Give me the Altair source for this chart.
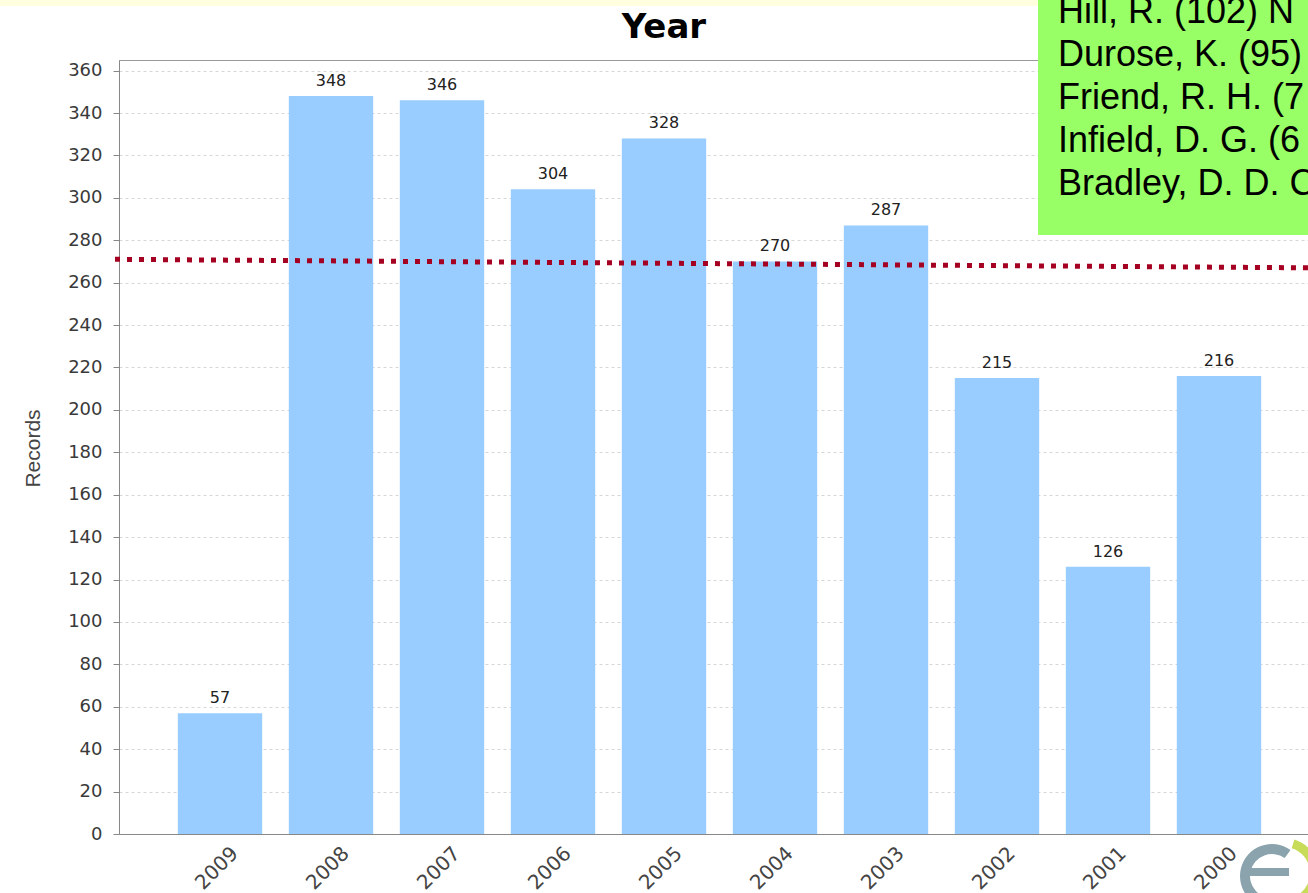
import altair as alt
import pandas as pd

# ---- data ----
years = ["2009", "2008", "2007", "2006", "2005", "2004", "2003", "2002", "2001", "2000"]
records = [57, 348, 346, 304, 328, 270, 287, 215, 126, 216]
avg_start, avg_end = 271, 267
authors = ["Hill, R. (102)  N", "Durose, K. (95)", "Friend, R. H. (7", "Infield, D. G. (6", "Bradley, D. D. C"]
y_ticks = list(range(0, 361, 20))

df = pd.DataFrame({"Year": years, "Records": records})

W, H = 1189, 774

x_enc = alt.X("Year:N", sort=years, title=None,
              scale=alt.Scale(range=[0, 1201], paddingInner=0.24, paddingOuter=0.53),
              axis=alt.Axis(labelAngle=-45, labelAlign="right", labelBaseline="top",
                            labelOffset=8, labelPadding=9, ticks=False,
                            labelFont="DejaVu Sans", labelFontSize=20, labelColor="#444",
                            domainColor="#888", grid=False))
y_enc = alt.Y("Records:Q", title="Records",
              scale=alt.Scale(domain=[0, 365], nice=False),
              axis=alt.Axis(values=y_ticks, tickSize=6, tickColor="#888", labelPadding=11,
                            labelFont="DejaVu Sans", labelFontSize=18, labelColor="#3a3a3a",
                            domainColor="#888", gridColor="#d6d6d6", gridDash=[3, 3],
                            titleFont="Liberation Sans", titleFontSize=21, titleFontWeight="normal",
                            titleColor="#444", titleX=-86, titleY=388, titleAngle=-90,
                            titleAlign="center", titleBaseline="middle"))

bars = alt.Chart(df).mark_bar(color="#99CCFF").encode(x=x_enc, y=y_enc)
labels = alt.Chart(df).mark_text(baseline="bottom", dy=-7, font="DejaVu Sans",
                                 fontSize=16, color="#222").encode(
    x=alt.X("Year:N", sort=years), y="Records:Q", text="Records:Q")

one = alt.Data(values=[{"a": 1}])
avg = alt.Chart(alt.Data(values=[{"s": avg_start, "e": avg_end}])).mark_rule(
    color="#A50021", strokeWidth=5, strokeDash=[5, 7], strokeCap="butt").encode(
    x=alt.value(-4), x2=alt.value(W), y="s:Q", y2="e:Q")

yellow = alt.Chart(one).mark_rect(color="#FFFFE0").encode(
    x=alt.value(-119), x2=alt.value(919), y=alt.value(-60), y2=alt.value(-54))
green = alt.Chart(one).mark_rect(color="#99FF66").encode(
    x=alt.value(919), x2=alt.value(1300), y=alt.value(-62), y2=alt.value(175))
green_text = alt.Chart(alt.Data(values=[{"t": authors}])).mark_text(
    align="left", baseline="alphabetic", font="Liberation Sans", fontSize=36,
    lineHeight=43, color="#000").encode(
    x=alt.value(939), y=alt.value(-37), text="t:N")
title = alt.Chart(one).mark_text(text="Year", font="DejaVu Sans", fontSize=34,
                                 fontWeight="bold", color="#000", align="center",
                                 baseline="middle").encode(
    x=alt.value(545), y=alt.value(-32))

logo_gray = alt.Chart(one).mark_arc(color="#8AA3AD", theta=3.0, theta2=6.9,
                                    outerRadius=32, innerRadius=22).encode(
    x=alt.value(1153), y=alt.value(816))
logo_bar = alt.Chart(one).mark_rect(color="#8AA3AD").encode(
    x=alt.value(1128), x2=alt.value(1170), y=alt.value(808), y2=alt.value(816))
logo_green = alt.Chart(one).mark_arc(color="#C8DC5A", theta=0.3, theta2=2.6,
                                     outerRadius=35, innerRadius=26).encode(
    x=alt.value(1165), y=alt.value(813))

chart = alt.layer(bars, labels, avg, yellow, green, green_text, title,
                  logo_gray, logo_bar, logo_green).properties(
    width=W, height=H,
    autosize=alt.AutoSizeParams(type="none"),
    padding={"left": 119, "top": 60, "right": 0, "bottom": 59},
    background="white",
).configure_view(stroke="#999", strokeWidth=1)

chart.save("out.html", embed_options={"renderer": "svg", "actions": False})
